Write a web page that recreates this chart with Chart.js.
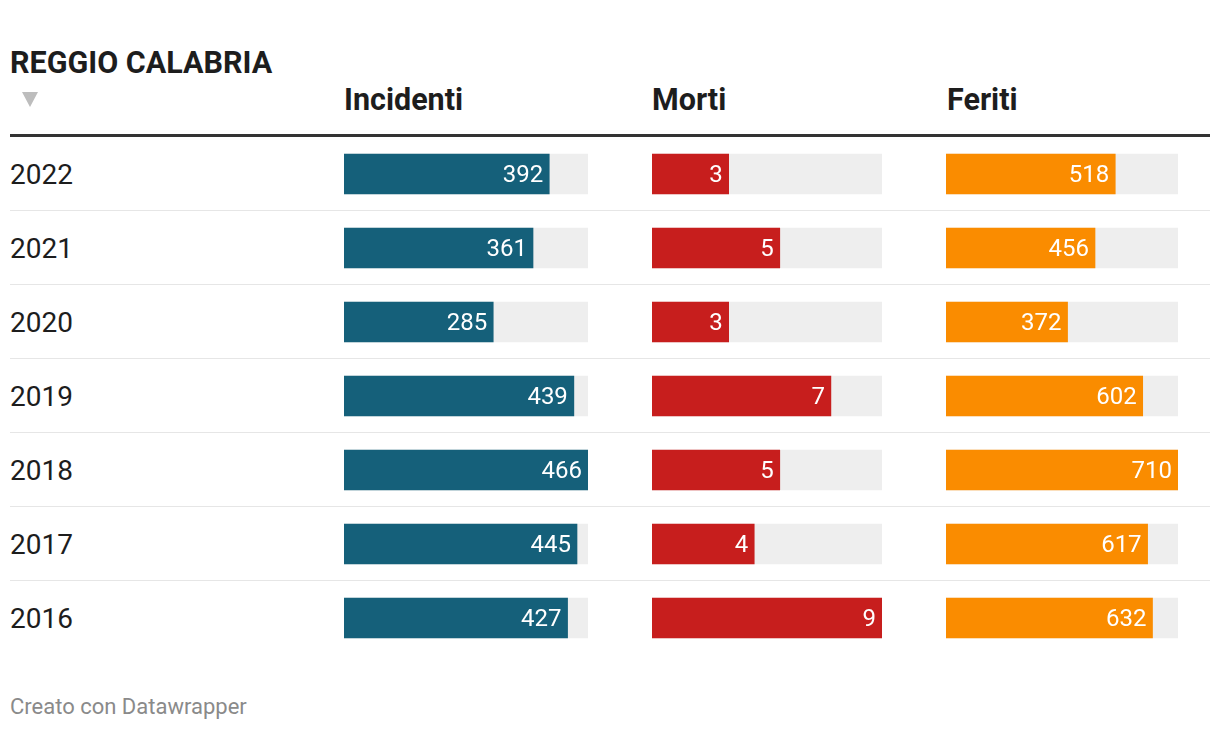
<!DOCTYPE html>
<html lang="it">
<head>
<meta charset="UTF-8">
<title>Reggio Calabria</title>
<script src="https://cdn.jsdelivr.net/npm/chart.js"></script>
<style>
    html, body {
        margin: 0;
        padding: 0;
        background: #fff;
    }
    body {
        width: 1220px;
        height: 730px;
        position: relative;
        font-family: Roboto, Arial, sans-serif;
        color: #1d1d1d;
        overflow: hidden;
    }
    .abs {
        position: absolute;
        line-height: 1;
        white-space: nowrap;
    }
    .title {
        left: 10px;
        top: 48px;
        font-size: 30.5px;
        font-weight: 700;
    }
    .sort {
        left: 22px;
        top: 92px;
        width: 0;
        height: 0;
        border-left: 8px solid transparent;
        border-right: 8px solid transparent;
        border-top: 15px solid #bdbdbd;
    }
    .head {
        top: 85px;
        font-size: 30.5px;
        font-weight: 700;
    }
    .rule {
        left: 10px;
        width: 1200px;
        top: 134px;
        height: 3px;
        background: #333;
    }
    .sep {
        left: 10px;
        width: 1200px;
        height: 1px;
        background: #e6e6e6;
    }
    .year {
        left: 10px;
        font-size: 28px;
    }
    .footer {
        left: 10px;
        top: 696px;
        font-size: 22px;
        color: #8a8a8a;
    }
    canvas {
        position: absolute;
        top: 137px;
    }
</style>
</head>
<body>
    <div class="abs title">REGGIO CALABRIA</div>
    <div class="abs sort"></div>
    <div class="abs head" style="left:344px">Incidenti</div>
    <div class="abs head" style="left:652px">Morti</div>
    <div class="abs head" style="left:947px">Feriti</div>
    <div class="abs rule"></div>
    <div id="rows"></div>

    <canvas id="incidenti" width="244" height="518" style="left:344px"></canvas>
    <canvas id="morti" width="230" height="518" style="left:652px"></canvas>
    <canvas id="feriti" width="232" height="518" style="left:946px"></canvas>

    <div class="abs footer">Creato con Datawrapper</div>

<script>
    const years = ['2022', '2021', '2020', '2019', '2018', '2017', '2016'];
    const incidenti = [392, 361, 285, 439, 466, 445, 427];
    const morti = [3, 5, 3, 7, 5, 4, 9];
    const feriti = [518, 456, 372, 602, 710, 617, 632];

    // year labels and row separators
    const rows = document.getElementById('rows');
    years.forEach((y, i) => {
        const lab = document.createElement('div');
        lab.className = 'abs year';
        lab.style.top = (161 + 74 * i) + 'px';
        lab.textContent = y;
        rows.appendChild(lab);
        if (i < years.length - 1) {
            const s = document.createElement('div');
            s.className = 'abs sep';
            s.style.top = (210 + 74 * i) + 'px';
            rows.appendChild(s);
        }
    });

    Chart.defaults.font.family = 'Roboto';

    // white value label at the end of each bar
    const valueLabels = {
        id: 'valueLabels',
        afterDatasetsDraw(chart) {
            const ctx = chart.ctx;
            const meta = chart.getDatasetMeta(0);
            const values = chart.data.datasets[0].data;
            ctx.save();
            ctx.font = '24px Roboto';
            ctx.fillStyle = '#ffffff';
            ctx.textAlign = 'right';
            ctx.textBaseline = 'alphabetic';
            meta.data.forEach((bar, i) => {
                ctx.fillText(String(values[i]), bar.x - 6, bar.y + 8);
            });
            ctx.restore();
        }
    };

    function makeBars(id, values, color) {
        const max = Math.max(...values);
        new Chart(document.getElementById(id), {
            type: 'bar',
            data: {
                labels: years,
                datasets: [
                    {
                        data: values,
                        backgroundColor: color,
                        grouped: false,
                        order: 0,
                        barThickness: 40,
                        borderWidth: 0
                    },
                    {
                        data: years.map(() => max),
                        backgroundColor: '#eeeeee',
                        grouped: false,
                        order: 1,
                        barThickness: 40,
                        borderWidth: 0
                    }
                ]
            },
            options: {
                indexAxis: 'y',
                responsive: false,
                animation: false,
                layout: { padding: 0 },
                scales: {
                    x: { min: 0, max: max, display: false },
                    y: { display: false }
                },
                plugins: {
                    legend: { display: false },
                    tooltip: { enabled: false }
                }
            },
            plugins: [valueLabels]
        });
    }

    makeBars('incidenti', incidenti, '#15607a');
    makeBars('morti', morti, '#c71e1d');
    makeBars('feriti', feriti, '#fa8c00');
</script>
</body>
</html>
